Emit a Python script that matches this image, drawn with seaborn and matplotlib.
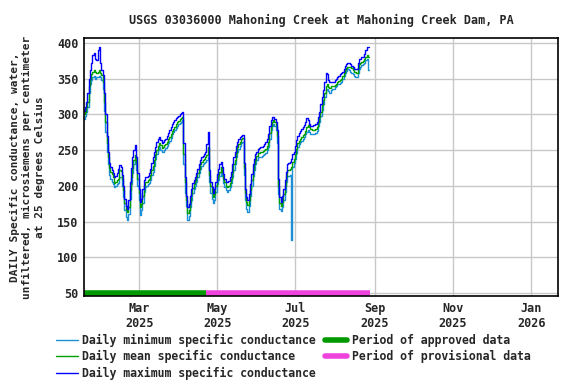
import matplotlib
matplotlib.use("Agg")
import matplotlib.pyplot as plt
from matplotlib.lines import Line2D
import seaborn as sns
import pandas as pd

start_date = "2025-01-17"

mean_vals = [
    300, 304, 310, 317, 340, 350, 356, 360, 362, 360,
    358, 360, 362, 358, 355, 345, 318, 290, 260, 240,
    225, 220, 216, 212, 204, 206, 208, 210, 222, 221,
    210, 194, 176, 166, 163, 170, 194, 212, 225, 236,
    243, 232, 210, 190, 170, 174, 186, 200, 205, 206,
    208, 210, 215, 222, 228, 236, 244, 250, 256, 260,
    257, 253, 255, 257, 259, 262, 265, 268, 272, 277,
    280, 283, 286, 289, 291, 293, 295, 297, 245, 205,
    180, 162, 166, 178, 188, 197, 202, 207, 212, 218,
    224, 230, 234, 236, 238, 240, 243, 254, 215, 200,
    192, 184, 188, 200, 210, 215, 220, 226, 220, 210,
    205, 200, 198, 200, 204, 210, 220, 230, 236, 246,
    254, 258, 262, 265, 267, 225, 190, 178, 173, 180,
    194, 208, 222, 230, 236, 242, 246, 246, 247, 247,
    249, 250, 252, 256, 262, 274, 284, 290, 292, 290,
    284, 270, 200, 176, 172, 178, 188, 200, 212, 222,
    222, 223, 226, 233, 238, 244, 252, 260, 263, 266,
    268, 271, 273, 277, 282, 285, 282, 280, 278, 278,
    278, 280, 283, 290, 296, 304, 313, 320, 330, 340,
    343, 339, 337, 340, 340, 340, 341, 343, 345, 347,
    348, 350, 354, 358, 362, 365, 367, 367, 366, 365,
    362, 360, 359, 358, 365, 370, 372, 374, 375, 377,
    380, 383, 380,
]

max_vals = [
    305, 310, 318, 330, 350, 362, 372, 383, 386, 378,
    376, 390, 394, 372, 362, 355, 330, 300, 270, 248,
    232, 226, 222, 218, 212, 214, 218, 224, 229, 226,
    215, 200, 182, 172, 168, 180, 205, 225, 240, 250,
    257, 240, 218, 196, 178, 182, 196, 208, 212, 212,
    214, 218, 224, 232, 240, 248, 255, 262, 266, 268,
    264, 260, 262, 264, 266, 270, 274, 278, 282, 286,
    290, 292, 295, 297, 298, 300, 302, 304, 260, 212,
    186, 170, 174, 186, 196, 204, 208, 212, 218, 224,
    230, 236, 240, 242, 244, 248, 258, 275, 222, 206,
    198, 190, 196, 206, 216, 224, 230, 233, 226, 216,
    210, 206, 205, 207, 212, 220, 230, 240, 248, 256,
    262, 265, 268, 270, 271, 232, 196, 184, 180, 188,
    202, 216, 230, 238, 244, 248, 252, 253, 254, 255,
    256, 258, 262, 266, 272, 284, 292, 296, 297, 294,
    290, 278, 210, 184, 178, 186, 196, 208, 220, 230,
    232, 234, 238, 244, 248, 256, 264, 270, 274, 277,
    279, 282, 285, 289, 295, 292, 286, 284, 284, 285,
    285, 287, 290, 296, 304, 314, 324, 334, 346, 358,
    356, 348, 345, 346, 345, 346, 348, 350, 352, 354,
    356, 358, 360, 364, 368, 370, 372, 372, 371, 368,
    366, 364, 363, 364, 372, 377, 378, 380, 381, 384,
    390, 394, 394,
]

min_vals = [
    294, 298, 304, 310, 330, 342, 348, 352, 354, 350,
    352, 352, 354, 352, 348, 335, 305, 275, 248, 230,
    215, 210, 206, 202, 198, 200, 202, 204, 212, 212,
    200, 184, 166, 156, 152, 160, 182, 202, 218, 230,
    236, 222, 200, 180, 159, 166, 176, 192, 198, 200,
    202, 204, 208, 215, 220, 228, 238, 244, 250, 254,
    250, 247, 248, 250, 253, 256, 260, 263, 267, 272,
    275, 278, 281, 284, 286, 288, 290, 292, 230, 190,
    172, 152, 158, 170, 180, 190, 196, 200, 206, 212,
    218, 224, 228, 230, 232, 234, 236, 240, 205, 190,
    182, 176, 180, 192, 202, 208, 214, 218, 214, 204,
    198, 194, 192, 194, 198, 204, 212, 222, 230, 240,
    248, 252, 256, 260, 262, 215, 180, 168, 163, 172,
    186, 200, 214, 222, 230, 236, 240, 240, 241, 242,
    243, 244, 246, 250, 255, 266, 278, 284, 286, 284,
    278, 260, 188, 168, 165, 170, 180, 192, 205, 214,
    214, 215, 124, 226, 232, 238, 246, 254, 258, 261,
    263, 266, 268, 272, 276, 278, 275, 272, 272, 272,
    272, 274, 277, 284, 290, 298, 306, 314, 324, 334,
    336, 333, 330, 334, 335, 336, 338, 340, 342, 343,
    344, 346, 350, 354, 358, 361, 363, 362, 360, 358,
    356, 354, 353, 352, 358, 364, 367, 369, 370, 372,
    376, 378, 362,
]

approved_period = ["2025-01-17", "2025-04-22"]
provisional_period = ["2025-04-22", "2025-08-28"]

tick_dates = ["2025-03-01", "2025-05-01", "2025-07-01", "2025-09-01", "2025-11-01", "2026-01-01"]
tick_labels = ["Mar\n2025", "May\n2025", "Jul\n2025", "Sep\n2025", "Nov\n2025", "Jan\n2026"]

title = "USGS 03036000 Mahoning Creek at Mahoning Creek Dam, PA"
ylabel = "DAILY Specific conductance, water,\nunfiltered, microsiemens per centimeter\nat 25 degrees Celsius"

sns.set_style("white")
plt.rcParams["font.family"] = ["DejaVu Sans Mono"]
plt.rcParams["font.weight"] = "bold"

dates = pd.date_range(start_date, periods=len(mean_vals), freq="D")
df = pd.DataFrame({"date": dates, "min": min_vals, "mean": mean_vals, "max": max_vals})

fig = plt.figure(figsize=(5.76, 3.84), dpi=100)
ax = fig.add_axes([0.146, 0.229, 0.823, 0.672])

c_min = "#1a8fd6"
c_mean = "#00a000"
c_max = "#0000ff"
c_appr = "#009900"
c_prov = "#ee44dd"

sns.lineplot(data=df, x="date", y="min", ax=ax, color=c_min, lw=1.0, drawstyle="steps-mid")
sns.lineplot(data=df, x="date", y="mean", ax=ax, color=c_mean, lw=1.0, drawstyle="steps-mid")
sns.lineplot(data=df, x="date", y="max", ax=ax, color=c_max, lw=1.0, drawstyle="steps-mid")

bar_df_a = pd.DataFrame({"date": pd.to_datetime(approved_period), "v": [50, 50]})
bar_df_p = pd.DataFrame({"date": pd.to_datetime(provisional_period), "v": [50, 50]})
sns.lineplot(data=bar_df_a, x="date", y="v", ax=ax, color=c_appr, lw=4, solid_capstyle="butt")
sns.lineplot(data=bar_df_p, x="date", y="v", ax=ax, color=c_prov, lw=4, solid_capstyle="butt")

ax.set_xlim(pd.Timestamp("2025-01-17"), pd.Timestamp("2026-01-22"))
ax.set_ylim(45.7, 407)
ax.set_yticks([50, 100, 150, 200, 250, 300, 350, 400])
ax.set_xticks(pd.to_datetime(tick_dates))
ax.set_xticklabels(tick_labels)
ax.tick_params(axis="both", labelsize=8.5, length=0, pad=4)
for lab in ax.get_xticklabels() + ax.get_yticklabels():
    lab.set_fontweight("bold")
ax.grid(True, color="#c8c8c8", lw=1.0)
for s in ax.spines.values():
    s.set_color("black")
    s.set_linewidth(1.2)
ax.set_xlabel("")
ax.set_ylabel(ylabel, fontsize=8, fontweight="bold", labelpad=9, linespacing=1.3)
ax.set_title(title, fontsize=8.5, fontweight="bold", pad=10)

handles = [
    Line2D([], [], color=c_min, lw=1),
    Line2D([], [], color=c_mean, lw=1),
    Line2D([], [], color=c_max, lw=1),
    Line2D([], [], color=c_appr, lw=4),
    Line2D([], [], color=c_prov, lw=4),
]
labels = [
    "Daily minimum specific conductance",
    "Daily mean specific conductance",
    "Daily maximum specific conductance",
    "Period of approved data",
    "Period of provisional data",
]
fig.legend(handles, labels, ncol=2, loc="upper left", bbox_to_anchor=(0.097, 0.13),
           frameon=False, fontsize=8.3, handlelength=1.9, handletextpad=0.4,
           columnspacing=0.8, labelspacing=0.27, borderaxespad=0, borderpad=0)

fig.savefig("out.png", dpi=100)
